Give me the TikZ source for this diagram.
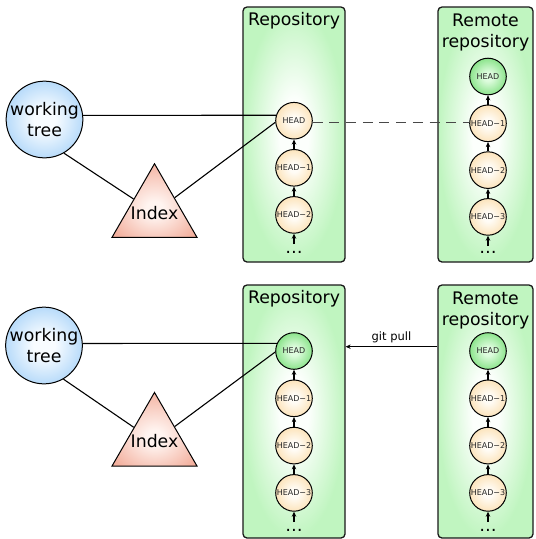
\documentclass[tikz,border=0pt]{standalone}
\usepackage{fontspec}
\setmainfont{DejaVu Sans}
\usetikzlibrary{arrows.meta,shapes.geometric}

\definecolor{repoin}{RGB}{252,255,252}
\definecolor{repoout}{RGB}{192,245,192}
\definecolor{commitin}{RGB}{255,252,246}
\definecolor{commitout}{RGB}{252,228,188}
\definecolor{headin}{RGB}{222,252,222}
\definecolor{headout}{RGB}{140,228,140}
\definecolor{treein}{RGB}{248,252,255}
\definecolor{treeout}{RGB}{184,219,250}
\definecolor{indexin}{RGB}{255,244,240}
\definecolor{indexout}{RGB}{243,176,158}
\definecolor{linkgray}{RGB}{72,72,72}

% radial fills that stay pale around the middle
\pgfdeclareradialshading{reposhade}{\pgfpointorigin}{color(0bp)=(repoin); color(7bp)=(repoin); color(25bp)=(repoout); color(50bp)=(repoout)}
\pgfdeclareradialshading{commitshade}{\pgfpointorigin}{color(0bp)=(commitin); color(6bp)=(commitin); color(25bp)=(commitout); color(50bp)=(commitout)}
\pgfdeclareradialshading{headshade}{\pgfpointorigin}{color(0bp)=(headin); color(6bp)=(headin); color(25bp)=(headout); color(50bp)=(headout)}
\pgfdeclareradialshading{treeshade}{\pgfpointorigin}{color(0bp)=(treein); color(7bp)=(treein); color(25bp)=(treeout); color(50bp)=(treeout)}
\pgfdeclareradialshading{indexshade}{\pgfpoint{0bp}{-6bp}}{color(0bp)=(indexin); color(5bp)=(indexin); color(30bp)=(indexout); color(60bp)=(indexout)}

\newcommand{\bigtext}{\fontsize{17.3}{21}\selectfont}

\tikzset{
  repobox/.style={draw=black!90, line width=1.3pt, rounded corners=4pt,
    shade, shading=reposhade, inner sep=0pt},
  title/.style={font=\bigtext, inner sep=0pt},
  commit/.style={circle, draw=black, line width=1pt, minimum size=36.6pt,
    inner sep=0pt, shade, shading=commitshade,
    font=\fontsize{8}{9}\selectfont, text=black!85},
  headcommit/.style={commit, shading=headshade},
  tree/.style={circle, draw=black, line width=1pt, minimum size=74.4pt,
    inner sep=0pt, shade, shading=treeshade,
    align=center, font=\bigtext},
  indexnode/.style={regular polygon, regular polygon sides=3, draw=black,
    line width=1pt, minimum size=98.1pt, inner sep=0pt,
    shade, shading=indexshade,
    label={[font=\bigtext, inner sep=0pt]center:Index}},
  link/.style={draw=black, line width=1.1pt},
  parent/.style={draw=black, line width=1.1pt,
    -{Stealth[length=5pt,width=4.5pt]}},
  more/.style={font=\bigtext, inner sep=0pt, anchor=base},
  tracking/.style={draw=linkgray, line width=1.4pt, dash pattern=on 10pt off 6.7pt},
  pull/.style={draw=black, line width=1pt, -{Stealth[length=5pt,width=4.5pt]}}
}

\begin{document}
\begin{tikzpicture}[x=1pt,y=-1pt]
\useasboundingbox (0,0) rectangle (536,539);

% ---------- before the pull ----------
\node[repobox, minimum width=102pt, minimum height=255pt] (tbox) at (294,134.5) {};
\node[repobox, minimum width=95pt, minimum height=255pt] (tmbox) at (485.5,134.5) {};
\node[title, anchor=base] (tboxname) at (294,25.3) {Repository};
\node[title, align=center] (tmboxname) at (485.5,32.7) {Remote\\repository};

\node[tree] (wt) at (44.5,119.5) {working\\tree};
\node[indexnode] (idx) at (154.5,212.8) {};

% local history
\node[commit] (rh) at (294,120.7) {HEAD};
\node[commit] (rh1) at (294,167.8) {HEAD−1};
\node[commit] (rh2) at (294,214.9) {HEAD−2};
\node[more] (rdots) at (294,253.3) {…};
\coordinate (rtail) at (294,244);

% remote history
\node[headcommit] (mh) at (488,76.5) {HEAD};
\node[commit] (mh1) at (488,123.3) {HEAD−1};
\node[commit] (mh2) at (488,170.1) {HEAD−2};
\node[commit] (mh3) at (488,216.9) {HEAD−3};
\node[more] (mdots) at (488,253.3) {…};
\coordinate (mtail) at (488,246);

\draw[link] (wt.6) -- (rh.163);
\draw[link] (wt.-60) -- (idx);
\draw[link] (idx) -- (rh.185);
\draw[tracking] (rh.-6) -- (rh.-6 -| mh1.west);

\draw[parent] (rh1) -- (rh);
\draw[parent] (rh2) -- (rh1);
\draw[parent] (rtail) -- (rh2);
\draw[parent] (mh1) -- (mh);
\draw[parent] (mh2) -- (mh1);
\draw[parent] (mh3) -- (mh2);
\draw[parent] (mtail) -- (mh3);

% ---------- after the pull ----------
\node[repobox, minimum width=102pt, minimum height=253pt] (bbox) at (294,411.5) {};
\node[repobox, minimum width=95pt, minimum height=253pt] (bmbox) at (485.5,411.5) {};
\node[title, anchor=base] (bboxname) at (294,303.3) {Repository};
\node[title, align=center] (bmboxname) at (485.5,310.7) {Remote\\repository};

\node[tree] (wt2) at (44,345.5) {working\\tree};
\node[indexnode] (idx2) at (154.5,441.5) {};

% local history, now up to date
\node[headcommit] (bh) at (294,351) {HEAD};
\node[commit] (bh1) at (294,398.3) {HEAD−1};
\node[commit] (bh2) at (294,445.6) {HEAD−2};
\node[commit] (bh3) at (294,492.9) {HEAD−3};
\node[more] (bdots) at (294,531.2) {…};
\coordinate (btail) at (294,522);

% remote history
\node[headcommit] (bm) at (488,351) {HEAD};
\node[commit] (bm1) at (488,398.3) {HEAD−1};
\node[commit] (bm2) at (488,445.6) {HEAD−2};
\node[commit] (bm3) at (488,492.9) {HEAD−3};
\node[more] (bmdots) at (488,531.2) {…};
\coordinate (bmtail) at (488,522);

\draw[link] (wt2.3) -- (bh.156);
\draw[link] (wt2.-60) -- (idx2);
\draw[link] (idx2) -- (bh.183);

\coordinate (pullrow) at (0,346.7);
\draw[pull] (bmbox.west |- pullrow) -- (bbox.east |- pullrow)
  node[midway, above=3pt, inner sep=0pt, font=\fontsize{11.5}{13}\selectfont] (pulllabel) {git pull};

\draw[parent] (bh1) -- (bh);
\draw[parent] (bh2) -- (bh1);
\draw[parent] (bh3) -- (bh2);
\draw[parent] (btail) -- (bh3);
\draw[parent] (bm1) -- (bm);
\draw[parent] (bm2) -- (bm1);
\draw[parent] (bm3) -- (bm2);
\draw[parent] (bmtail) -- (bm3);
\end{tikzpicture}
\end{document}
